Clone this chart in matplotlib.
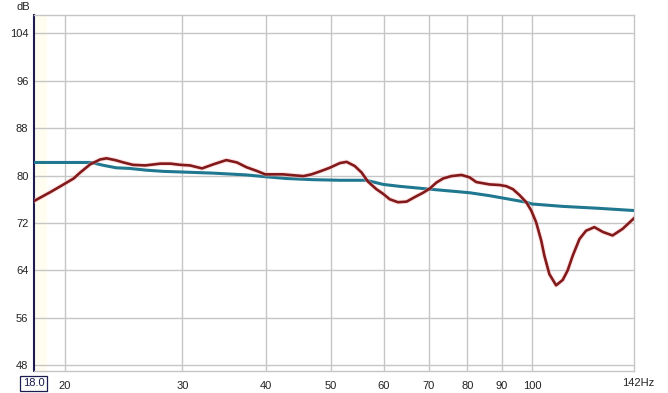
import matplotlib
matplotlib.use("Agg")
import matplotlib.pyplot as plt
from matplotlib.ticker import FixedLocator, NullLocator, NullFormatter

plt.rcParams['font.family'] = ['Liberation Sans', 'DejaVu Sans']

meas_f = [18.0, 19.04, 20.0, 20.63, 21.1, 21.85, 22.6, 23.1, 23.8, 24.5, 25.3,
          26.4, 27.8, 28.8, 29.8, 30.8, 32.1, 33.4, 34.9, 36.2, 37.4, 38.7,
          39.9, 41.0, 42.4, 43.9, 45.5, 46.8, 48.2, 49.8, 51.6, 52.8, 54.3,
          55.6, 56.8, 58.5, 59.9, 61.25, 63.0, 64.9, 67.1, 68.7, 70.3, 71.9,
          73.6, 75.7, 78.4, 80.6, 82.5, 84.4, 86.4, 89.4, 91.5, 93.6, 95.75,
          98.0, 99.7, 101.4, 103.2, 104.3, 106.1, 108.6, 111.1, 113.0, 115.0,
          117.7, 120.4, 123.9, 127.5, 131.9, 136.5, 142.0]
meas_db = [75.7, 77.2, 78.6, 79.5, 80.5, 81.9, 82.7, 82.9, 82.6, 82.2, 81.8,
           81.7, 82.0, 82.0, 81.8, 81.7, 81.2, 81.9, 82.6, 82.2, 81.4, 80.8,
           80.2, 80.2, 80.2, 80.05, 79.9, 80.2, 80.7, 81.3, 82.1, 82.3, 81.6,
           80.5, 79.0, 77.7, 76.9, 76.0, 75.5, 75.6, 76.5, 77.1, 77.8, 78.8,
           79.5, 79.9, 80.1, 79.7, 78.9, 78.7, 78.5, 78.4, 78.2, 77.7, 76.7,
           75.5, 74.1, 72.1, 69.0, 66.5, 63.4, 61.5, 62.4, 64.0, 66.5,
           69.3, 70.7, 71.3, 70.5, 69.9, 71.0, 72.8]

# Target (blue) curve
targ_f = [18.0, 20.0, 21.9, 22.9, 23.9, 25.0, 26.5, 28.1, 29.8, 33.4, 37.4,
          39.9, 42.9, 47.0, 51.6, 56.5, 59.9, 63.1, 70.3, 80.6, 86.4, 91.5,
          98.0, 100.0, 111.1, 124.6, 142.0]
targ_db = [82.2, 82.2, 82.2, 81.7, 81.3, 81.2, 80.9, 80.7, 80.6, 80.4, 80.1,
           79.8, 79.5, 79.3, 79.2, 79.2, 78.5, 78.2, 77.7, 77.1, 76.6, 76.1,
           75.5, 75.2, 74.8, 74.5, 74.1]

x_ticks = [20, 30, 40, 50, 60, 70, 80, 90, 100]
x_tick_labels = ["20", "30", "40", "50", "60", "70", "80", "90", "100"]
y_ticks = [48, 56, 64, 72, 80, 88, 96, 104]

W, H = 668, 393
fig = plt.figure(figsize=(W / 100, H / 100), dpi=100)
fig.patch.set_facecolor('white')
ax = fig.add_axes([34 / W, 22 / H, 600 / W, 356 / H])
ax.set_xscale('log')
ax.set_xlim(18.0, 142.0)
ax.set_ylim(47.06, 107.05)

ax.axvspan(18.0, 18.8, color='#fffdf0', lw=0, zorder=0)

ax.xaxis.set_major_locator(FixedLocator(x_ticks))
ax.xaxis.set_minor_locator(NullLocator())
ax.xaxis.set_minor_formatter(NullFormatter())
ax.set_xticklabels(x_tick_labels)
ax.set_yticks(y_ticks)
ax.set_yticklabels([str(v) for v in y_ticks])
ax.grid(True, which='major', color='#c6c6c6', lw=1.0)
ax.set_axisbelow(True)
ax.tick_params(axis='both', length=0, labelsize=8, colors='#222222')
ax.tick_params(axis='x', pad=7)
ax.tick_params(axis='y', pad=4)

for s in ['top', 'right', 'bottom']:
    ax.spines[s].set_color('#c6c6c6')
    ax.spines[s].set_linewidth(1.0)
ax.spines['left'].set_color('#1c1c50')
ax.spines['left'].set_linewidth(1.5)

ax.plot(targ_f, targ_db, color='#1f7890', lw=2.2, solid_capstyle='butt',
        solid_joinstyle='round', zorder=3)
ax.plot(meas_f, meas_db, color='#ffb8b8', lw=3.4, alpha=0.4,
        solid_joinstyle='round', zorder=4)
ax.plot(meas_f, meas_db, color='#821a1c', lw=1.9, solid_joinstyle='round', zorder=5)

fig.text(30 / W, 1 - 7 / H, "dB", ha='right', va='center', fontsize=8, color='#222222')
fig.text(622 / W, 1 - 383 / H, "142Hz", ha='left', va='center', fontsize=8, color='#222222')
fig.text(33.5 / W, 1 - 383.5 / H, "18.0", ha='center', va='center', fontsize=8,
         color='#1c1c50',
         bbox=dict(boxstyle='square,pad=0.22', fc='white', ec='#1c1c50', lw=0.9))

fig.savefig("out.png", dpi=100)
